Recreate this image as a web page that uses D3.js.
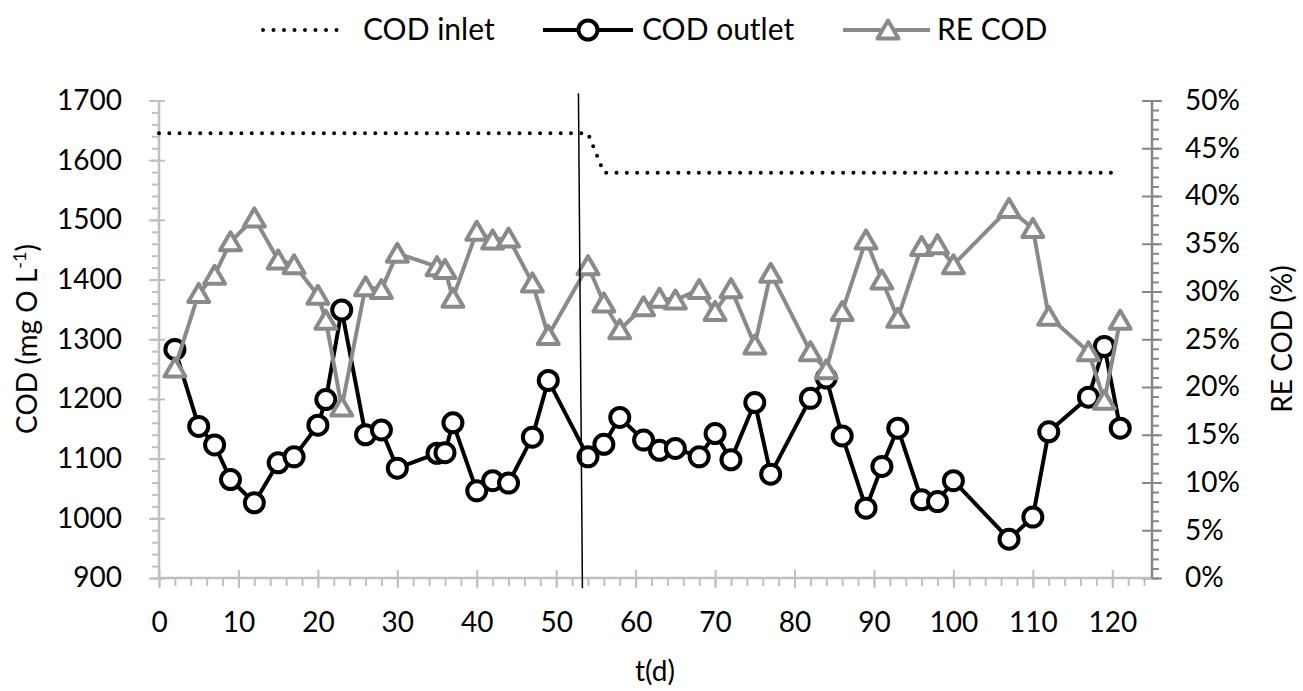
<!DOCTYPE html>
<html>
<head>
<meta charset="utf-8">
<script src="https://cdn.jsdelivr.net/npm/d3@7"></script>
<style>
  body { margin: 0; background: #fff; }
  svg text { font-family: Lato, "Open Sans", sans-serif; fill: #000; }
</style>
</head>
<body>
<svg id="chart" width="1303" height="691"></svg>
<script>
// days and values
const inletDays = [0, 54, 56, 121];
const inletCod = [1645, 1645, 1579, 1579];

const days = [2, 5, 7, 9, 12, 15, 17, 20, 21, 23, 26, 28, 30, 35, 36, 37, 40, 42, 44, 47, 49,
  54, 56, 58, 61, 63, 65, 68, 70, 72, 75, 77, 82, 84, 86, 89, 91, 93, 96, 98, 100,
  107, 110, 112, 117, 119, 121];
const outletCod = [1283, 1154, 1123, 1065, 1026, 1093, 1103, 1156, 1199, 1349, 1140, 1148, 1084,
  1109, 1110, 1160, 1046, 1063, 1059, 1136, 1231, 1103, 1124, 1169, 1131, 1114, 1117, 1103,
  1142, 1098, 1194, 1074, 1201, 1235, 1138, 1017, 1087, 1151, 1031, 1028, 1063, 965, 1002,
  1145, 1203, 1288, 1151];
const reCod = [22.0, 29.8, 31.7, 35.2, 37.7, 33.3, 32.8, 29.6, 27.0, 17.9, 30.5, 30.2, 34.0,
  32.6, 32.3, 29.3, 36.3, 35.4, 35.6, 30.9, 25.4, 32.7, 28.8, 26.0, 28.4, 29.3, 29.1, 30.2,
  27.9, 30.3, 24.4, 31.9, 23.7, 21.8, 27.9, 35.4, 31.2, 27.2, 34.7, 34.9, 32.8, 38.7, 36.6,
  27.4, 23.7, 18.6, 27.0];

// hand drawn separator (slightly slanted)
const sepDays = [52.8, 53.3];
const sepCod = [1712, 883];

const xTicks = d3.range(0, 121, 10);
const yTicks = d3.range(900, 1701, 100);
const rTicks = d3.range(0, 51, 5);

const legendNames = ["COD inlet", "COD outlet", "RE COD"];

const svg = d3.select("#chart");
const plotL = 159, plotR = 1152, plotT = 100.5, plotB = 578;
const grayLight = "#bfbfbf", grayDark = "#878787", reColor = "#8a8a8a";

const x = d3.scaleLinear().domain([0, 125]).range([plotL, plotR]);
const y = d3.scaleLinear().domain([900, 1700]).range([plotB, plotT]);
const yr = d3.scaleLinear().domain([0, 50]).range([plotB, plotT]);

// ---- axes
const styleAxis = function(g, color) {
  g.select(".domain").remove();
  g.selectAll(".tick line").attr("stroke", color).attr("stroke-width", 2);
  g.selectAll("text").attr("font-size", 28).attr("fill", "#000");
};

// left
svg.append("g").attr("transform", `translate(${plotL},0)`)
  .call(d3.axisLeft(y).tickValues(d3.range(900, 1701, 20)).tickSize(7).tickFormat(""))
  .call(g => styleAxis(g, grayLight));
svg.append("g").attr("transform", `translate(${plotL},0)`)
  .call(d3.axisLeft(y).tickValues(yTicks).tickSize(10).tickSizeOuter(0).tickPadding(27)
    .tickFormat(d3.format("d")))
  .call(g => styleAxis(g, grayLight))
  .call(g => g.selectAll(".tick line").attr("x1", 6));

// bottom
svg.append("g").attr("transform", `translate(0,${plotB})`)
  .call(d3.axisBottom(x).tickValues(d3.range(0, 125, 2)).tickSize(8).tickFormat(""))
  .call(g => styleAxis(g, grayLight));
svg.append("g").attr("transform", `translate(0,${plotB})`)
  .call(d3.axisBottom(x).tickValues(xTicks).tickSize(10).tickSizeOuter(0).tickPadding(24)
    .tickFormat(d3.format("d")))
  .call(g => styleAxis(g, grayLight))
  .call(g => g.selectAll(".tick line").attr("y1", -8));

// right
svg.append("g").attr("transform", `translate(${plotR},0)`)
  .call(d3.axisRight(yr).tickValues(d3.range(0, 51, 1)).tickSize(7).tickFormat(""))
  .call(g => styleAxis(g, grayDark));
svg.append("g").attr("transform", `translate(${plotR},0)`)
  .call(d3.axisRight(yr).tickValues(rTicks).tickSize(10).tickSizeOuter(0).tickPadding(23)
    .tickFormat(d => d + "%"))
  .call(g => styleAxis(g, grayDark))
  .call(g => g.selectAll(".tick line").attr("x1", -10));

svg.append("line").attr("x1", plotL).attr("x2", plotL).attr("y1", plotT).attr("y2", plotB)
  .attr("stroke", grayLight).attr("stroke-width", 2.5);
svg.append("line").attr("x1", plotL).attr("x2", plotR).attr("y1", plotB).attr("y2", plotB)
  .attr("stroke", grayLight).attr("stroke-width", 2.5);
svg.append("line").attr("x1", plotR).attr("x2", plotR).attr("y1", plotT).attr("y2", plotB)
  .attr("stroke", grayDark).attr("stroke-width", 2.5);

// axis titles
const lt = svg.append("text")
  .attr("transform", "translate(37,339) rotate(-90)")
  .attr("text-anchor", "middle").attr("font-size", 28);
lt.append("tspan").text("COD (mg O L");
lt.append("tspan").text("-1").attr("font-size", 18).attr("dy", -11);
lt.append("tspan").text(")").attr("dy", 11);

svg.append("text")
  .attr("transform", "translate(1292,339) rotate(-90)")
  .attr("text-anchor", "middle").attr("font-size", 28)
  .text("RE COD (%)");

svg.append("text").attr("x", 655).attr("y", 681)
  .attr("text-anchor", "middle").attr("font-size", 28).text("t(d)");

// ---- series
const triPath = "M0,-9.5L10.5,8.5L-10.5,8.5Z";

const inletLine = d3.line().x((d, i) => x(inletDays[i])).y(d => y(d));
svg.append("path").datum(inletCod).attr("d", inletLine)
  .attr("fill", "none").attr("stroke", "#000").attr("stroke-width", 4)
  .attr("stroke-linecap", "round").attr("stroke-dasharray", "0 10.3");

const outLine = d3.line().x((d, i) => x(days[i])).y(d => y(d));
svg.append("path").datum(outletCod).attr("d", outLine)
  .attr("fill", "none").attr("stroke", "#000").attr("stroke-width", 4)
  .attr("stroke-linejoin", "round");
svg.append("g").selectAll("circle").data(outletCod).join("circle")
  .attr("cx", (d, i) => x(days[i])).attr("cy", d => y(d)).attr("r", 9.5)
  .attr("fill", "#fff").attr("stroke", "#000").attr("stroke-width", 4);

const reLine = d3.line().x((d, i) => x(days[i])).y(d => yr(d));
svg.append("path").datum(reCod).attr("d", reLine)
  .attr("fill", "none").attr("stroke", reColor).attr("stroke-width", 4)
  .attr("stroke-linejoin", "round");
svg.append("g").selectAll("path").data(reCod).join("path")
  .attr("d", triPath)
  .attr("transform", (d, i) => `translate(${x(days[i])},${yr(d)})`)
  .attr("fill", "#fff").attr("stroke", reColor).attr("stroke-width", 4)
  .attr("stroke-linejoin", "round");

// separator
svg.append("line")
  .attr("x1", x(sepDays[0])).attr("y1", y(sepCod[0]))
  .attr("x2", x(sepDays[1])).attr("y2", y(sepCod[1]))
  .attr("stroke", "#000").attr("stroke-width", 1.5);

// ---- legend
const lg = svg.append("g");
const ly = 30;
lg.append("line").attr("x1", 263).attr("x2", 347).attr("y1", ly).attr("y2", ly)
  .attr("stroke", "#000").attr("stroke-width", 4).attr("stroke-linecap", "round")
  .attr("stroke-dasharray", "0 10.5");
lg.append("text").attr("x", 363).attr("y", 40).attr("font-size", 30).text(legendNames[0]);

lg.append("line").attr("x1", 543).attr("x2", 633).attr("y1", ly).attr("y2", ly)
  .attr("stroke", "#000").attr("stroke-width", 4);
lg.append("circle").attr("cx", 588).attr("cy", ly).attr("r", 9.5)
  .attr("fill", "#fff").attr("stroke", "#000").attr("stroke-width", 4);
lg.append("text").attr("x", 642).attr("y", 40).attr("font-size", 30).text(legendNames[1]);

lg.append("line").attr("x1", 843).attr("x2", 930).attr("y1", ly).attr("y2", ly)
  .attr("stroke", reColor).attr("stroke-width", 4);
lg.append("path").attr("d", triPath).attr("transform", `translate(888,${ly})`)
  .attr("fill", "#fff").attr("stroke", reColor).attr("stroke-width", 4)
  .attr("stroke-linejoin", "round");
lg.append("text").attr("x", 937).attr("y", 40).attr("font-size", 30).text(legendNames[2]);
</script>
</body>
</html>
